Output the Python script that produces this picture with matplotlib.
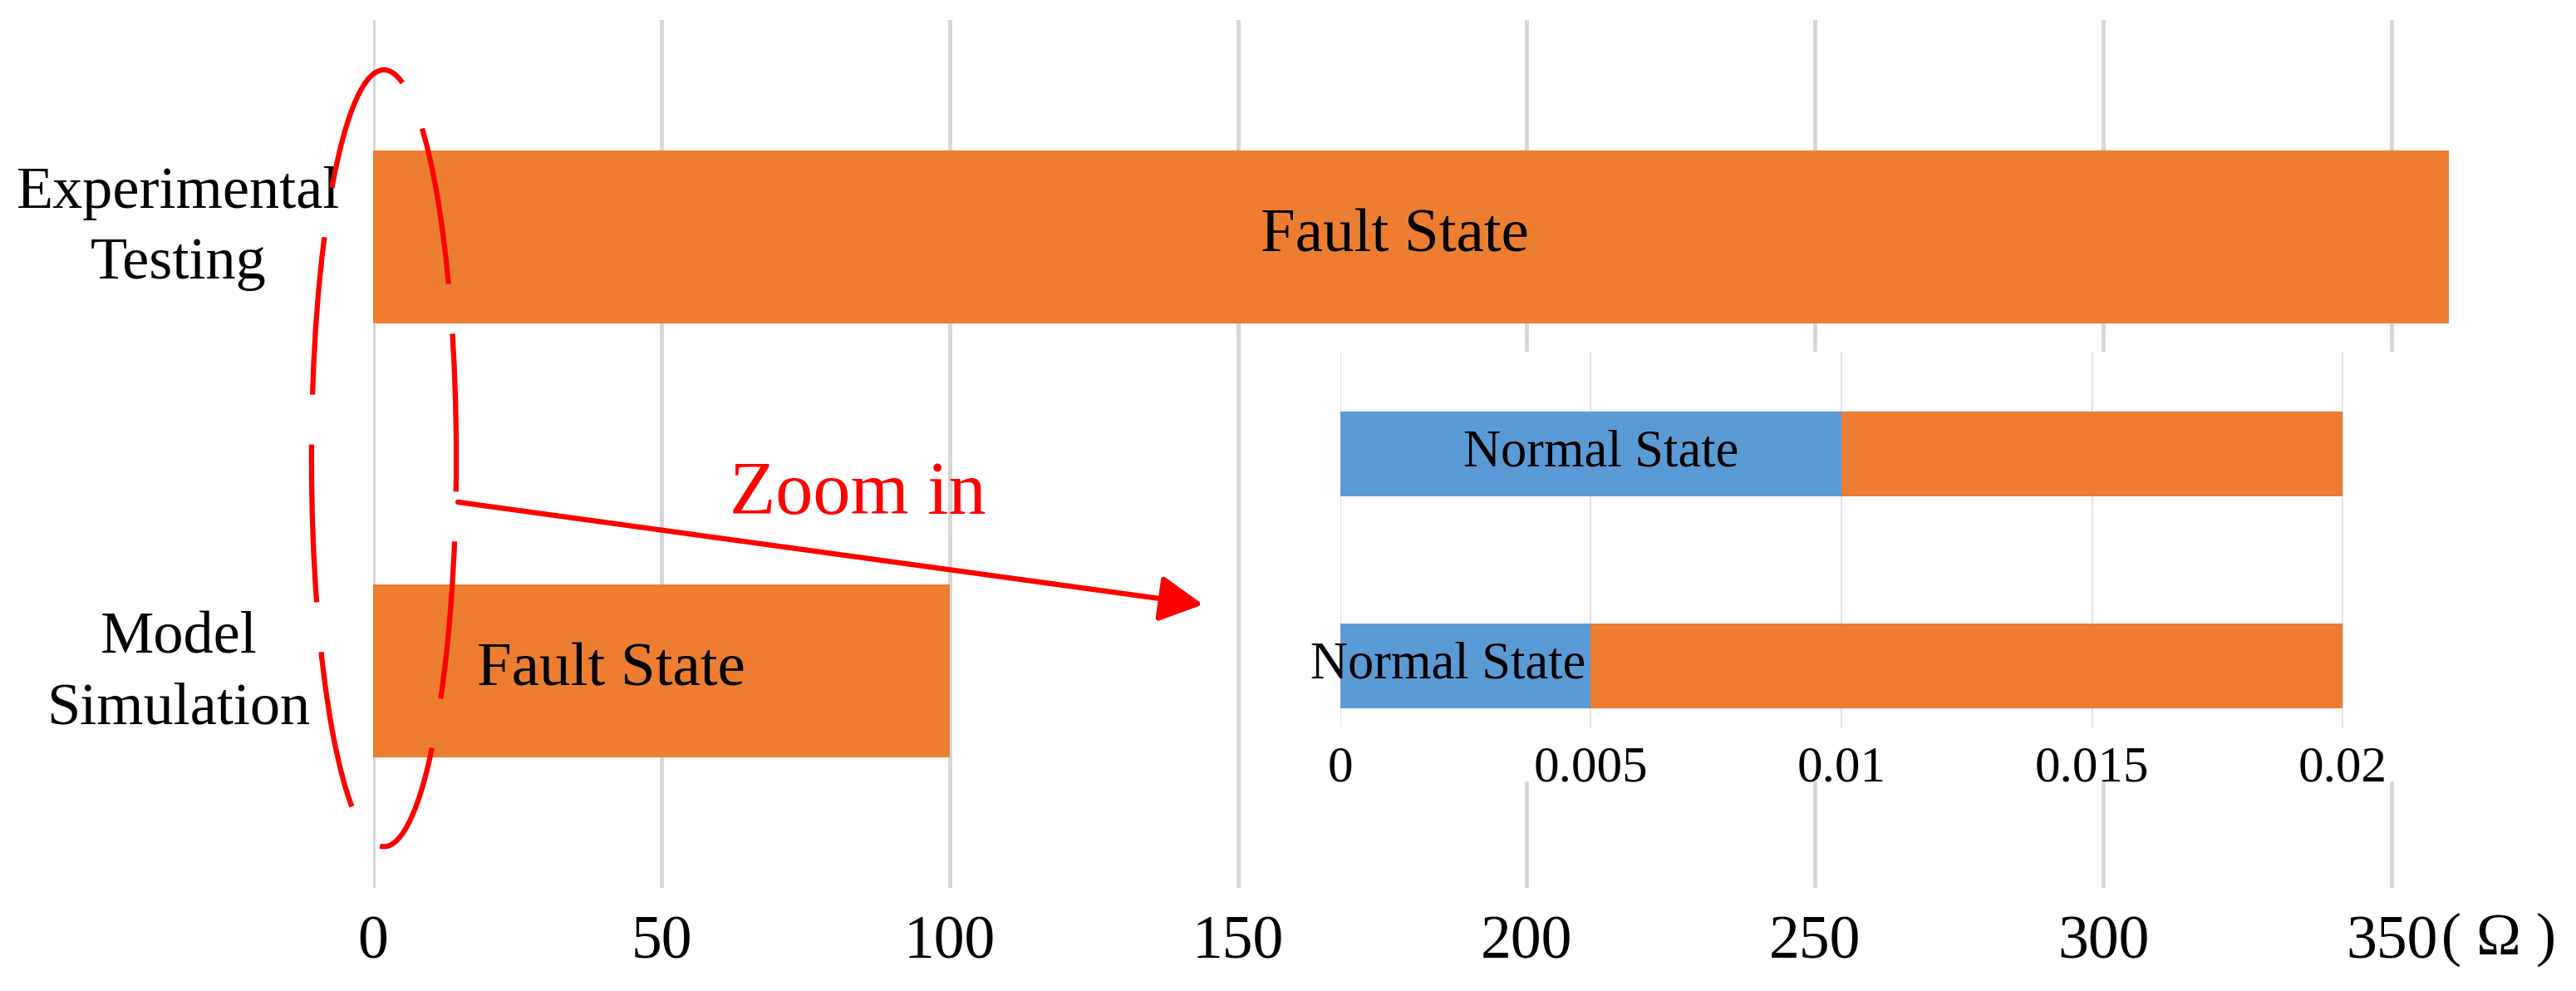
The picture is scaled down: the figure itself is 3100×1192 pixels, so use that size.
import numpy as np
import matplotlib
matplotlib.use('Agg')
import matplotlib.pyplot as plt
from matplotlib.patches import Ellipse, Rectangle
from matplotlib.transforms import blended_transform_factory

# data
categories = ['Model\nSimulation', 'Experimental\nTesting']
fault_ohm = [100, 360]
main_ticks = [0, 50, 100, 150, 200, 250, 300, 350]

# zoomed view (0 - 0.02 ohm)
normal_zoom = [0.005, 0.01]
fault_zoom = [0.015, 0.01]
zoom_ticks = [0, 0.005, 0.01, 0.015, 0.02]
zoom_ticklabels = ['0', '0.005', '0.01', '0.015', '0.02']

ORANGE = '#ED7D31'
BLUE = '#5B9BD5'
RED = '#FF0000'

plt.rcParams['font.family'] = ['Liberation Serif', 'Noto Sans CJK SC']

W, H = 3100, 1192
fig = plt.figure(figsize=(W / 100, H / 100), dpi=100)

# main chart
ax = fig.add_axes([449 / W, 124 / H, 365 * 6.94 / W, 1044 / H])
y = np.arange(len(categories))
ax.barh(y, fault_ohm, height=0.4, color=ORANGE, zorder=2, clip_on=False)
ax.set_xlim(0, 365)
ax.set_ylim(-0.5, 1.5)
ax.set_xticks(main_ticks)
ax.set_xticklabels([str(t) for t in main_ticks], fontsize=53)
ax.set_yticks(y)
ax.set_yticklabels([])
ax.tick_params(axis='y', length=0)
ax.tick_params(axis='x', length=0, pad=24)
ax.grid(axis='x', color='#D6D6D6', lw=3.5)
ax.set_axisbelow(True)
for s in ax.spines.values():
    s.set_visible(False)

# category names, centred on a common column left of the axis
cat_trans = blended_transform_factory(ax.transAxes, ax.transData)
for yi, name, dy in zip(y, categories, [-0.007, 0.02]):
    ax.text(-0.0924, yi + dy, name, transform=cat_trans, ha='center', va='center',
            multialignment='center', fontsize=52, linespacing=1.4, clip_on=False)

ax.text(fault_ohm[1] * 0.492, 1, 'Fault State', ha='center', va='center', fontsize=54)
ax.text(18, 0, 'Fault State', ha='left', va='center', fontsize=54)

# unit after the last tick
trans = blended_transform_factory(ax.transData, ax.transAxes)
ax.text(358.7, -0.06, '( Ω )', transform=trans, ha='left', va='center',
        fontsize=52, clip_on=False)

# white panel behind the zoomed chart
ax.add_patch(Rectangle((1540 / W, 1 - 940 / H), (2960 - 1540) / W, (940 - 423) / H,
                       transform=fig.transFigure, facecolor='white',
                       edgecolor='none', zorder=0.8, clip_on=False))

# red annotation: dashed ellipse + arrow + text
ell = Ellipse((1.87, 0.49), 25.1, 1.79, fill=False, edgecolor=RED, lw=4.5,
              linestyle=(8.3, (30.4, 9.6)), zorder=5, clip_on=False)
ax.add_patch(ell)
ax.annotate('', xy=(143.9, 0.153), xytext=(14.7, 0.389),
            arrowprops=dict(arrowstyle='-|>,head_length=1.6,head_width=0.85',
                            color=RED, lw=4.5, shrinkA=0, shrinkB=0,
                            mutation_scale=20),
            annotation_clip=False, zorder=5)
ax.text(61.8, 0.362, 'Zoom in', color=RED, fontsize=65, va='baseline',
        ha='left', zorder=5)

# zoomed chart
axz = fig.add_axes([1613 / W, 1 - 875 / H, 0.0205 * 60300 / W, 452 / H])
axz.barh(y, normal_zoom, height=0.4, color=BLUE, zorder=2)
axz.barh(y, fault_zoom, left=normal_zoom, height=0.4, color=ORANGE, zorder=2)
axz.set_xlim(0, 0.0205)
axz.set_ylim(-0.29, 1.48)
axz.set_xticks(zoom_ticks)
axz.set_xticklabels(zoom_ticklabels, fontsize=44)
axz.set_yticks([])
axz.tick_params(axis='x', length=0, pad=16)
axz.grid(axis='x', color='#E4E4E4', lw=1.5)
axz.set_axisbelow(True)
for s in axz.spines.values():
    s.set_visible(False)

axz.text(0.0052, 1, 'Normal State', ha='center', va='center', fontsize=45, zorder=3)
axz.text(0.0049, 0, 'Normal State', ha='right', va='center', fontsize=45,
         zorder=3, clip_on=False)

fig.savefig('out.png', dpi=100)
